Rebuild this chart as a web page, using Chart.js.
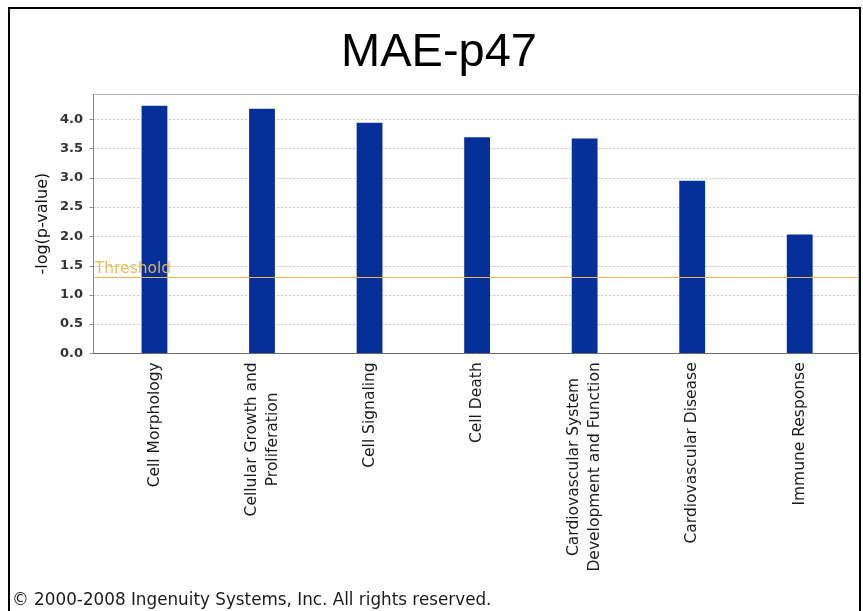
<!DOCTYPE html>
<html>
<head>
<meta charset="utf-8">
<script src="https://cdn.jsdelivr.net/npm/chart.js@4/dist/chart.umd.min.js"></script>
<style>
  html, body { margin: 0; padding: 0; background: #fff; }
  #wrap { position: relative; width: 863px; height: 611px; overflow: hidden; background: #fff; }
  canvas { position: absolute; left: 0; top: 0; }
  #frame { position: absolute; left: 8px; top: 7px; width: 853px; height: 700px; border: 2px solid #000; box-sizing: border-box; pointer-events: none; }
  #copy { position: absolute; left: 12px; top: 589px; font: 16.8px "DejaVu Sans", sans-serif; color: #1a1a1a; white-space: nowrap; }
</style>
</head>
<body>
<div id="wrap">
  <canvas id="chart" width="863" height="611"></canvas>
  <div id="frame"></div>
  <div id="copy">© 2000-2008 Ingenuity Systems, Inc. All rights reserved.</div>
</div>
<script>
// Functional categories and their significance scores
const chartTitle = 'MAE-p47';
const categories = [
  ['Cell Morphology'],
  ['Cellular Growth and', 'Proliferation'],
  ['Cell Signaling'],
  ['Cell Death'],
  ['Cardiovascular System', 'Development and Function'],
  ['Cardiovascular Disease'],
  ['Immune Response']
];
const scores = [4.23, 4.18, 3.94, 3.69, 3.67, 2.95, 2.03];
const yTickValues = [0, 0.5, 1.0, 1.5, 2.0, 2.5, 3.0, 3.5, 4.0];
const yAxisTitle = '-log(p-value)';
const thresholdValue = 1.3;
const thresholdText = 'Threshold';

const BAR_COLOR = '#05309a';
const LABEL_FONT = '15.5px "DejaVu Sans", sans-serif';

// Plot frame, dotted grid and y tick marks drawn behind the bars
const framePlugin = {
  id: 'framePlugin',
  beforeDatasetsDraw(chart) {
    const { ctx, chartArea: a, scales: { y } } = chart;
    const L = a.left - 7.4, R = a.right + 4.5, T = a.top, B = a.bottom;
    ctx.save();
    // dotted horizontal grid
    ctx.strokeStyle = '#c4c4c4';
    ctx.lineWidth = 1;
    ctx.setLineDash([2, 2]);
    yTickValues.forEach(v => {
      if (v === 0) return;
      const py = Math.round(y.getPixelForValue(v)) + 0.5;
      ctx.beginPath(); ctx.moveTo(L, py); ctx.lineTo(R, py); ctx.stroke();
    });
    ctx.setLineDash([]);
    // top and right border
    ctx.strokeStyle = '#b4b4b4';
    ctx.beginPath();
    ctx.moveTo(L, Math.round(T) + 0.5); ctx.lineTo(Math.round(R) + 0.5, Math.round(T) + 0.5);
    ctx.lineTo(Math.round(R) + 0.5, B);
    ctx.stroke();
    // left axis line and tick marks
    ctx.strokeStyle = '#8a8a8a';
    const lx = Math.round(L) + 0.5;
    ctx.beginPath(); ctx.moveTo(lx, T); ctx.lineTo(lx, B); ctx.stroke();
    yTickValues.forEach(v => {
      const py = Math.round(y.getPixelForValue(v)) + 0.5;
      ctx.beginPath(); ctx.moveTo(lx - 4, py); ctx.lineTo(lx, py); ctx.stroke();
    });
    ctx.restore();
  },
  afterDatasetsDraw(chart) {
    const { ctx, chartArea: a, scales: { y } } = chart;
    const L = a.left - 7.4, R = a.right + 4.5, B = a.bottom;
    ctx.save();
    // bottom axis line
    ctx.strokeStyle = '#6a6a6a';
    ctx.lineWidth = 1;
    const by = Math.round(B) + 0.5;
    ctx.beginPath(); ctx.moveTo(L, by); ctx.lineTo(R, by); ctx.stroke();
    // significance threshold
    const ty = Math.round(y.getPixelForValue(thresholdValue)) + 0.5;
    ctx.strokeStyle = '#efb545';
    ctx.beginPath(); ctx.moveTo(L + 1, ty); ctx.lineTo(R, ty); ctx.stroke();
    ctx.fillStyle = 'rgba(236,184,72,0.95)';
    ctx.font = '15.5px "DejaVu Sans", sans-serif';
    ctx.textAlign = 'left';
    ctx.textBaseline = 'alphabetic';
    ctx.fillText(thresholdText, L + 1.5, ty - 5);
    ctx.restore();
  }
};

// Rotated category labels, longest line flush with the axis and the rest centred on it
const categoryLabelPlugin = {
  id: 'categoryLabelPlugin',
  afterDraw(chart) {
    const { ctx, chartArea: a, scales: { x } } = chart;
    const topY = a.bottom + 9;
    const lineGap = 21;
    ctx.save();
    ctx.font = LABEL_FONT;
    ctx.fillStyle = '#1a1a1a';
    ctx.textAlign = 'center';
    ctx.textBaseline = 'middle';
    categories.forEach((lines, i) => {
      const cx = x.getPixelForValue(i);
      const maxW = Math.max(...lines.map(s => ctx.measureText(s).width));
      lines.forEach((s, k) => {
        const lx = cx + (k - (lines.length - 1) / 2) * lineGap;
        ctx.save();
        ctx.translate(lx, topY + maxW / 2);
        ctx.rotate(-Math.PI / 2);
        ctx.fillText(s, 0, 0);
        ctx.restore();
      });
    });
    ctx.restore();
  }
};

new Chart(document.getElementById('chart'), {
  type: 'bar',
  data: {
    labels: categories,
    datasets: [{
      data: scores,
      backgroundColor: BAR_COLOR,
      borderWidth: 0,
      barPercentage: 0.24,
      categoryPercentage: 1.0
    }]
  },
  options: {
    responsive: false,
    animation: false,
    devicePixelRatio: 1,
    layout: { padding: { left: 24.5, right: 9.5, top: 0, bottom: 0 } },
    plugins: {
      legend: { display: false },
      tooltip: { enabled: false },
      title: {
        display: true,
        text: chartTitle,
        color: '#000',
        font: { family: '"Liberation Sans", Arial, sans-serif', size: 47, weight: 'normal', lineHeight: 1.2 },
        padding: { top: 24.8, bottom: 12.8 }
      }
    },
    scales: {
      x: {
        type: 'category',
        offset: true,
        grid: { display: false },
        border: { display: false },
        ticks: { display: false },
        afterFit(scale) { scale.height = 611 - 353.3; }
      },
      y: {
        min: 0,
        max: 4.43,
        grid: { display: false, drawTicks: false },
        border: { display: false },
        ticks: {
          stepSize: 0.5,
          includeBounds: false,
          padding: 17.7,
          color: '#333',
          font: { family: '"DejaVu Sans", sans-serif', size: 13, weight: 'bold' },
          callback: v => yTickValues.includes(Math.round(v * 10) / 10) ? Number(v).toFixed(1) : ''
        },
        title: {
          display: true,
          text: yAxisTitle,
          color: '#111',
          font: { family: '"DejaVu Sans", sans-serif', size: 16, weight: 'normal', lineHeight: 1.2 },
          padding: { top: 9, bottom: 0 }
        },
        afterFit(scale) { scale.width = 100.7 - 24.5; }
      }
    }
  },
  plugins: [framePlugin, categoryLabelPlugin]
});
</script>
</body>
</html>
